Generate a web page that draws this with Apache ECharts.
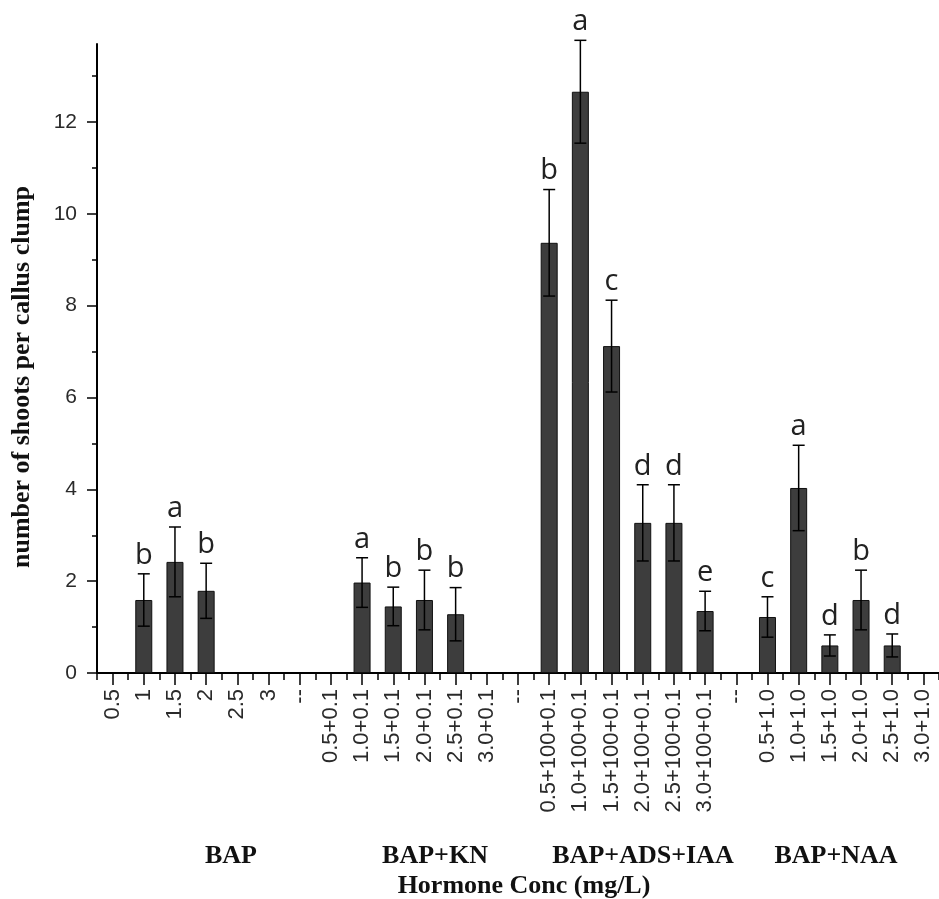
<!DOCTYPE html>
<html>
<head>
<meta charset="utf-8">
<script src="https://cdn.jsdelivr.net/npm/echarts@6/dist/echarts.min.js"></script>
<style>
  html, body { margin: 0; padding: 0; background: #fff; }
  #main { width: 939px; height: 899px; }
</style>
</head>
<body>
<div id="main"></div>
<script>
// x categories (separators between the four hormone groups)
const categories = [
  '0.5', '1', '1.5', '2', '2.5', '3', '--',
  '0.5+0.1', '1.0+0.1', '1.5+0.1', '2.0+0.1', '2.5+0.1', '3.0+0.1', '--',
  '0.5+100+0.1', '1.0+100+0.1', '1.5+100+0.1', '2.0+100+0.1', '2.5+100+0.1', '3.0+100+0.1', '--',
  '0.5+1.0', '1.0+1.0', '1.5+1.0', '2.0+1.0', '2.5+1.0', '3.0+1.0'
]
// mean number of shoots per callus clump
const means = [
  null, 1.59, 2.42, 1.79, null, null, null,
  null, 1.97, 1.45, 1.59, 1.28, null, null,
  9.37, 12.66, 7.12, 3.27, 3.27, 1.35, null,
  1.22, 4.03, 0.6, 1.59, 0.6, null
]
// standard error
const errors = [
  null, 0.57, 0.76, 0.6, null, null, null,
  null, 0.54, 0.42, 0.65, 0.58, null, null,
  1.16, 1.12, 1.0, 0.83, 0.83, 0.43, null,
  0.44, 0.93, 0.23, 0.65, 0.25, null
]
// significance letters
const letters = [
  '', 'b', 'a', 'b', '', '', '',
  '', 'a', 'b', 'b', 'b', '', '',
  'b', 'a', 'c', 'd', 'd', 'e', '',
  'c', 'a', 'd', 'b', 'd', ''
]
const groups = ['BAP', 'BAP+KN', 'BAP+ADS+IAA', 'BAP+NAA']
const yTicks = [0, 12, 2] // min, last labelled tick, step

const chart = echarts.init(document.getElementById('main'))

// plot area
const plotLeft = 97
const plotTop = 44
const plotH = 629
const plotW = 846
const yMax = 13.7
const pxPerUnit = plotH / yMax
const bottomY = plotTop + plotH

const errData = []
means.forEach((m, i) => {
  if (m != null) errData.push([i, m, errors[i]])
})

const serif = '"Liberation Serif", "Times New Roman", serif'
const tickStyle = { color: '#000', width: 1.5 }

const option = {
  animation: false,
  grid: [
    { left: plotLeft, top: plotTop, width: plotW, height: plotH },
    // major y ticks + labels (0..12)
    { left: plotLeft, top: bottomY - yTicks[1] * pxPerUnit, width: plotW, height: yTicks[1] * pxPerUnit },
    // minor y ticks (0..13)
    { left: plotLeft, top: bottomY - 13 * pxPerUnit, width: plotW, height: 13 * pxPerUnit }
  ],
  xAxis: [
    {
      type: 'category',
      gridIndex: 0,
      data: categories,
      position: 'bottom',
      axisLine: { show: true, lineStyle: { color: '#000', width: 2 } },
      axisTick: { show: true, alignWithLabel: true, interval: 0, inside: false, length: 12, lineStyle: tickStyle },
      axisLabel: {
        interval: 0,
        rotate: 90,
        margin: 16,
        fontSize: 22,
        fontFamily: '"Liberation Sans", Arial, sans-serif',
        color: '#2a2a2a'
      },
      splitLine: { show: false }
    },
    {
      type: 'category',
      gridIndex: 0,
      data: categories,
      position: 'bottom',
      axisLine: { show: false },
      axisTick: { show: true, interval: 0, inside: false, length: 7, lineStyle: tickStyle },
      axisLabel: { show: false },
      splitLine: { show: false }
    },
    { type: 'value', gridIndex: 1, show: false },
    { type: 'value', gridIndex: 2, show: false }
  ],
  yAxis: [
    {
      type: 'value',
      gridIndex: 0,
      min: 0,
      max: yMax,
      axisLine: { show: true, lineStyle: { color: '#000', width: 2 } },
      axisTick: { show: false },
      axisLabel: { show: false },
      splitLine: { show: false }
    },
    {
      type: 'value',
      gridIndex: 1,
      min: yTicks[0],
      max: yTicks[1],
      interval: yTicks[2],
      axisLine: { show: false },
      axisTick: { show: true, length: 10, lineStyle: tickStyle },
      axisLabel: {
        margin: 20,
        fontSize: 21,
        fontFamily: '"Liberation Sans", Arial, sans-serif',
        color: '#2a2a2a'
      },
      splitLine: { show: false }
    },
    {
      type: 'value',
      gridIndex: 2,
      min: 0,
      max: 13,
      interval: 1,
      axisLine: { show: false },
      axisTick: { show: true, length: 5, lineStyle: tickStyle },
      axisLabel: { show: false },
      splitLine: { show: false }
    }
  ],
  series: [
    {
      type: 'bar',
      xAxisIndex: 0,
      yAxisIndex: 0,
      data: means,
      barWidth: 17,
      itemStyle: { color: '#3d3d3d', borderColor: '#111', borderWidth: 1 }
    },
    {
      type: 'custom',
      xAxisIndex: 0,
      yAxisIndex: 0,
      data: errData,
      z: 5,
      renderItem(params, api) {
        const i = api.value(0)
        const m = api.value(1)
        const e = api.value(2)
        const hi = api.coord([i, m + e])
        const lo = api.coord([i, m - e])
        const cap = 6
        const line = { stroke: '#000', lineWidth: 1.5 }
        return {
          type: 'group',
          children: [
            { type: 'line', shape: { x1: hi[0], y1: hi[1], x2: lo[0], y2: lo[1] }, style: line },
            { type: 'line', shape: { x1: hi[0] - cap, y1: hi[1], x2: hi[0] + cap, y2: hi[1] }, style: line },
            { type: 'line', shape: { x1: lo[0] - cap, y1: lo[1], x2: lo[0] + cap, y2: lo[1] }, style: line },
            {
              type: 'text',
              style: {
                text: letters[i],
                x: hi[0],
                y: hi[1] - 4,
                align: 'center',
                verticalAlign: 'bottom',
                font: '29px "Open Sans", sans-serif',
                fill: '#222'
              }
            }
          ]
        }
      }
    }
  ],
  graphic: [
    {
      type: 'text',
      x: 22,
      y: 377,
      rotation: Math.PI / 2,
      style: {
        text: 'number of shoots per callus clump',
        font: 'bold 26px ' + serif,
        fill: '#111',
        align: 'center',
        verticalAlign: 'middle'
      }
    },
    ...groups.map((g, k) => ({
      type: 'text',
      x: [231, 435, 643, 836][k],
      y: 856,
      style: { text: g, font: 'bold 26px ' + serif, fill: '#111', align: 'center', verticalAlign: 'middle' }
    })),
    {
      type: 'text',
      x: 524,
      y: 886,
      style: {
        text: 'Hormone Conc (mg/L)',
        font: 'bold 26px ' + serif,
        fill: '#111',
        align: 'center',
        verticalAlign: 'middle'
      }
    }
  ]
}

chart.setOption(option)
</script>
</body>
</html>
